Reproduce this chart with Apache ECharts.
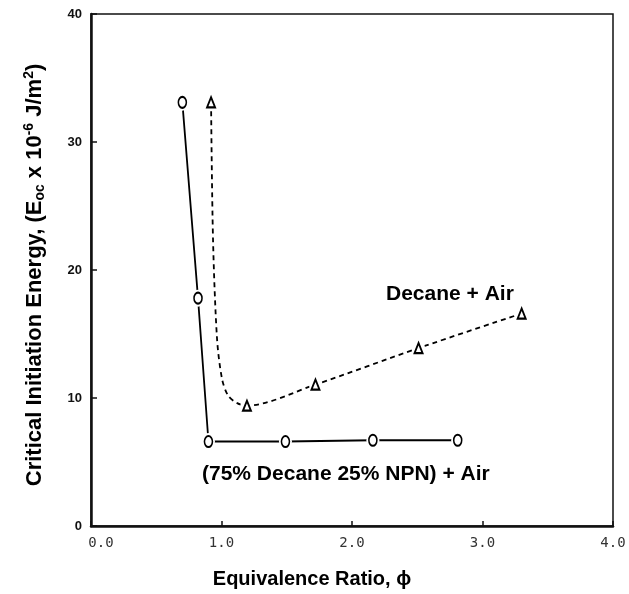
<!DOCTYPE html>
<html>
<head>
<meta charset="utf-8">
<script src="https://cdn.jsdelivr.net/npm/echarts@6/dist/echarts.min.js"></script>
<style>html,body{margin:0;padding:0;background:#fff}#c{width:629px;height:594px}</style>
</head>
<body>
<div id="c"></div>
<script>
// Data
const npnPhi = [0.70, 0.82, 0.90, 1.49, 2.16, 2.81];
const npnE   = [33.1, 17.8, 6.6, 6.6, 6.7, 6.7];
const decanePhi = [0.92, 1.195, 1.72, 2.51, 3.30];
const decaneE   = [33.1, 9.4, 11.05, 13.9, 16.6];
// hand-drawn guide curve between the first two triangles
const decaneCurvePhi = [0.935, 0.966, 1.004, 1.05, 1.12];
const decaneCurveE   = [22.4, 14.6, 11.5, 10.2, 9.6];
const xTicks = [0, 1, 2, 3, 4];
const yTicks = [0, 10, 20, 30, 40];

const npnPts = npnPhi.map((x, i) => [x, npnE[i]]);
const decPts = decanePhi.map((x, i) => [x, decaneE[i]]);
const curvePts = decaneCurvePhi.map((x, i) => [x, decaneCurveE[i]]);
const decLine = [decPts[0], ...curvePts, ...decPts.slice(1)];

const chart = echarts.init(document.getElementById('c'), null, {renderer: 'canvas'});
chart.setOption({
  animation: false,
  backgroundColor: '#fff',
  grid: {left: 91, right: 16, top: 14, bottom: 66, show: true, borderColor: '#111', borderWidth: 1.5},
  xAxis: {
    type: 'value', min: xTicks[0], max: xTicks[xTicks.length - 1], interval: 1,
    axisLine: {onZero: false, lineStyle: {color: '#111', width: 2.5}},
    axisTick: {inside: true, length: 5, lineStyle: {color: '#111', width: 1.5}},
    splitLine: {show: false},
    axisLabel: {
      formatter: v => v === 0 ? '{z|0.0}' : v.toFixed(1),
      fontFamily: 'DejaVu Sans Mono', fontSize: 14, color: '#333', margin: 10,
      rich: {z: {fontFamily: 'DejaVu Sans Mono', fontSize: 14, color: '#333', padding: [0, 0, 0, 20]}}
    },
    name: 'Equivalence Ratio, \u03d5', nameLocation: 'middle', nameGap: 43,
    nameTextStyle: {fontFamily: 'Liberation Sans', fontWeight: 'bold', fontSize: 20, color: '#000', padding: [0, 80, 0, 0]}
  },
  yAxis: {
    type: 'value', min: yTicks[0], max: yTicks[yTicks.length - 1], interval: 10,
    axisLine: {onZero: false, lineStyle: {color: '#111', width: 2.5}},
    axisTick: {inside: true, length: 6, lineStyle: {color: '#111', width: 1.5}},
    splitLine: {show: false},
    axisLabel: {fontFamily: 'Liberation Sans', fontWeight: 'bold', fontSize: 13, color: '#111', margin: 9},
    name: '{a|Critical Initiation Energy, (E}{s|oc}{a| x 10}{u|-6}{a| J/m}{u|2}{a|)}',
    nameLocation: 'middle', nameGap: 44, nameRotate: 90,
    nameTextStyle: {
      fontFamily: 'Liberation Sans', fontWeight: 'bold', fontSize: 22, color: '#000',
      padding: [0, 10, 0, 0],
      rich: {
        a: {fontFamily: 'Liberation Sans', fontWeight: 'bold', fontSize: 22, color: '#000'},
        s: {fontFamily: 'Liberation Sans', fontWeight: 'bold', fontSize: 14, color: '#000', verticalAlign: 'bottom', padding: [11, 0, 0, 0]},
        u: {fontFamily: 'Liberation Sans', fontWeight: 'bold', fontSize: 14, color: '#000', verticalAlign: 'top', padding: [0, 0, 11, 0]}
      }
    }
  },
  series: [
    {type: 'line', data: npnPts, showSymbol: false, symbol: 'none',
     lineStyle: {color: '#000', width: 1.8}, z: 2},
    {type: 'line', data: decLine, showSymbol: false, symbol: 'none', smooth: 0.3,
     lineStyle: {color: '#000', width: 1.8, type: [5, 4]}, z: 2},
    // white halos making the gap between line and marker
    {type: 'scatter', data: npnPts, symbol: 'circle', symbolSize: [13, 17],
     itemStyle: {color: '#fff', opacity: 1}, z: 3, silent: true},
    {type: 'scatter', data: decPts, symbol: 'circle', symbolSize: [13, 16],
     itemStyle: {color: '#fff', opacity: 1}, z: 3, silent: true},
    {type: 'scatter', data: npnPts, symbol: 'circle', symbolSize: [8, 11],
     itemStyle: {color: '#fff', borderColor: '#000', borderWidth: 1.8, opacity: 1}, z: 4},
    {type: 'scatter', data: decPts, symbol: 'triangle', symbolSize: [8, 10],
     itemStyle: {color: '#fff', borderColor: '#000', borderWidth: 2, opacity: 1}, z: 4}
  ],
  graphic: [
    {type: 'text', left: 386, top: 284, style: {text: 'Decane + Air', font: 'bold 21px "Liberation Sans"', fill: '#000'}},
    {type: 'text', left: 202, top: 464, style: {text: '(75% Decane 25% NPN) + Air', font: 'bold 21px "Liberation Sans"', fill: '#000'}}
  ]
});
</script>
</body>
</html>
